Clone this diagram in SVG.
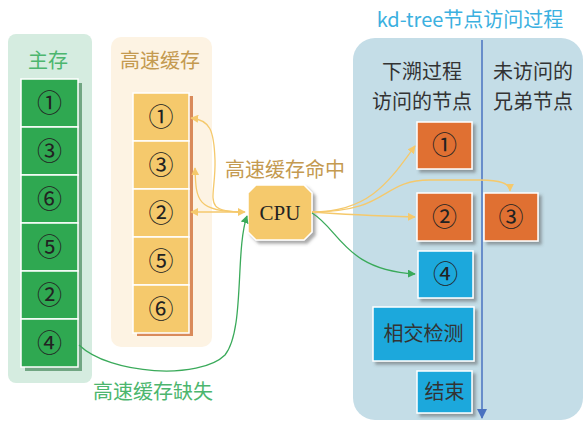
<svg xmlns="http://www.w3.org/2000/svg" width="585" height="422" viewBox="0 0 585 422">
<defs>
<style>
.cn{font-family:"Noto Sans CJK SC","Noto Sans",sans-serif;}
.num{font-family:"Noto Sans CJK SC","Liberation Serif",serif;font-size:25px;fill:#222;text-anchor:middle;}
.lbl{font-family:"Noto Sans CJK SC",sans-serif;font-size:20px;fill:#333;text-anchor:middle;}
.g{fill:#2fa851;stroke:#fff;stroke-width:1.5;}
.gs{fill:#1f6e36;opacity:0.55;}
.c{fill:#f5c96c;stroke:#fff;stroke-width:1.5;}
.cs{fill:#d98a5a;}
.o{fill:#e07030;stroke:#fff;stroke-width:1.5;}
.b{fill:#1fa8dc;stroke:#fff;stroke-width:1.5;}
.yl{fill:none;stroke:#f5c96c;stroke-width:1.3;}
.gl{fill:none;stroke:#3aaa5a;stroke-width:1.3;}
</style>
<marker id="ay" viewBox="0 0 10 10" refX="9" refY="5" markerWidth="8" markerHeight="8" orient="auto-start-reverse" markerUnits="userSpaceOnUse"><path d="M0,0 L10,5 L0,10 z" fill="#f5c96c"/></marker>
<marker id="ag" viewBox="0 0 10 10" refX="9" refY="5" markerWidth="8" markerHeight="8" orient="auto" markerUnits="userSpaceOnUse"><path d="M0,0 L10,5 L0,10 z" fill="#3aaa5a"/></marker>
<marker id="ab" viewBox="0 0 10 10" refX="9" refY="5" markerWidth="10" markerHeight="10" orient="auto" markerUnits="userSpaceOnUse"><path d="M0,0 L10,5 L0,10 z" fill="#4a72c0"/></marker>
<filter id="sh" x="-20%" y="-20%" width="150%" height="150%"><feDropShadow dx="3" dy="3" stdDeviation="1.5" flood-color="#555" flood-opacity="0.5"/></filter>
</defs>

<!-- panels -->
<g id="mainMemory">
<rect x="8" y="34" width="84" height="349" rx="8" fill="#d5ece0"/>
<text x="48" y="68" class="cn" font-size="20" fill="#4cb66e" text-anchor="middle">主存</text>
</g>
<g id="cache">
<rect x="111" y="37" width="101" height="310" rx="10" fill="#fdf3e3"/>
<text x="160" y="68" class="cn" font-size="20" fill="#c49a50" text-anchor="middle">高速缓存</text>
</g>
<g id="kdPanel">
<text x="470" y="27" class="cn" font-size="20" fill="#3bb0e0" text-anchor="middle">kd-tree节点访问过程</text>
<rect x="353" y="38" width="230" height="382" rx="22" fill="#c4dde7"/>
<text x="422" y="79" class="lbl">下溯过程</text>
<text x="422" y="109" class="lbl">访问的节点</text>
<text x="533" y="79" class="lbl">未访问的</text>
<text x="533" y="109" class="lbl">兄弟节点</text>
</g>

<!-- main memory boxes -->
<g id="m1"><rect x="25" y="83" width="57" height="48" class="gs"/><rect x="21" y="79" width="57" height="48" class="g"/><text x="49.5" y="112" class="num">①</text></g>
<g id="m3"><rect x="25" y="131" width="57" height="48" class="gs"/><rect x="21" y="127" width="57" height="48" class="g"/><text x="49.5" y="160" class="num">③</text></g>
<g id="m6"><rect x="25" y="179" width="57" height="48" class="gs"/><rect x="21" y="175" width="57" height="48" class="g"/><text x="49.5" y="208" class="num">⑥</text></g>
<g id="m5"><rect x="25" y="227" width="57" height="48" class="gs"/><rect x="21" y="223" width="57" height="48" class="g"/><text x="49.5" y="256" class="num">⑤</text></g>
<g id="m2"><rect x="25" y="275" width="57" height="48" class="gs"/><rect x="21" y="271" width="57" height="48" class="g"/><text x="49.5" y="304" class="num">②</text></g>
<g id="m4"><rect x="25" y="323" width="57" height="48" class="gs"/><rect x="21" y="319" width="57" height="48" class="g"/><text x="49.5" y="352" class="num">④</text></g>

<!-- cache boxes -->
<g id="c1"><rect x="137" y="96" width="56" height="48" class="cs"/><rect x="133" y="93" width="56" height="48" class="c"/><text x="161" y="126" class="num">①</text></g>
<g id="c3"><rect x="137" y="144" width="56" height="48" class="cs"/><rect x="133" y="141" width="56" height="48" class="c"/><text x="161" y="174" class="num">③</text></g>
<g id="c2"><rect x="137" y="192" width="56" height="48" class="cs"/><rect x="133" y="189" width="56" height="48" class="c"/><text x="161" y="222" class="num">②</text></g>
<g id="c5"><rect x="137" y="240" width="56" height="48" class="cs"/><rect x="133" y="237" width="56" height="48" class="c"/><text x="161" y="270" class="num">⑤</text></g>
<g id="c6"><rect x="137" y="288" width="56" height="48" class="cs"/><rect x="133" y="285" width="56" height="48" class="c"/><text x="161" y="318" class="num">⑥</text></g>

<!-- CPU -->
<g id="cpu">
<path d="M256,185 L304,185 L312,193 L312,232 L304,240 L256,240 L248,232 L248,193 Z" fill="#f5c96c" stroke="#fff" stroke-width="1.5" filter="url(#sh)"/>
<text x="280" y="220" font-family="Liberation Serif,serif" font-size="21" fill="#222" text-anchor="middle">CPU</text>
</g>
<text x="285" y="177" class="cn" font-size="20" fill="#c49a50" text-anchor="middle">高速缓存命中</text>

<!-- kd nodes -->
<g id="k1"><rect x="417" y="122" width="55" height="47" class="o" filter="url(#sh)"/><text x="444.5" y="154" class="num">①</text></g>
<g id="k2"><rect x="417" y="193" width="55" height="48" class="o" filter="url(#sh)"/><text x="444.5" y="226" class="num">②</text></g>
<g id="k3"><rect x="484" y="193" width="54" height="48" class="o" filter="url(#sh)"/><text x="511" y="226" class="num">③</text></g>
<g id="k4"><rect x="418" y="251" width="55" height="47" class="b" filter="url(#sh)"/><text x="445.5" y="283" class="num">④</text></g>
<g id="kTest"><rect x="373" y="307" width="101" height="54" class="b" filter="url(#sh)"/><text x="423.5" y="341" class="lbl">相交检测</text></g>
<g id="kEnd"><rect x="417" y="371" width="55" height="42" class="b" filter="url(#sh)"/><text x="444.5" y="399" class="lbl">结束</text></g>

<!-- connectors -->
<g id="connectors">
<line x1="482" y1="40" x2="482" y2="418" stroke="#4a72c0" stroke-width="1.5" marker-end="url(#ab)"/>
<path d="M244,212 C200,212 216,200 215,160 C214,130 210,120 191,118" class="yl" marker-end="url(#ay)"/>
<path d="M244,212 C196,212 196,200 195,168" class="yl" marker-end="url(#ay)"/>
<path d="M191,212 L245,212" class="yl" marker-start="url(#ay)" marker-end="url(#ay)"/>
<path d="M312,212 C370,212 390,180 415,146" class="yl" marker-end="url(#ay)"/>
<path d="M312,212 C390,212 380,180 430,180 L480,180 C500,180 510,183 510,191" class="yl" marker-end="url(#ay)"/>
<path d="M312,212 C350,215 380,216 415,217" class="yl" marker-end="url(#ay)"/>
<path d="M312,213 C340,230 345,270 415,274" class="gl" marker-end="url(#ag)"/>
<path d="M79,345 C110,375 200,380 225,355 C245,330 235,250 247,216" class="gl" marker-end="url(#ag)"/>
</g>
<text x="153" y="399" class="cn" font-size="20" fill="#4cb66e" text-anchor="middle">高速缓存缺失</text>
</svg>
